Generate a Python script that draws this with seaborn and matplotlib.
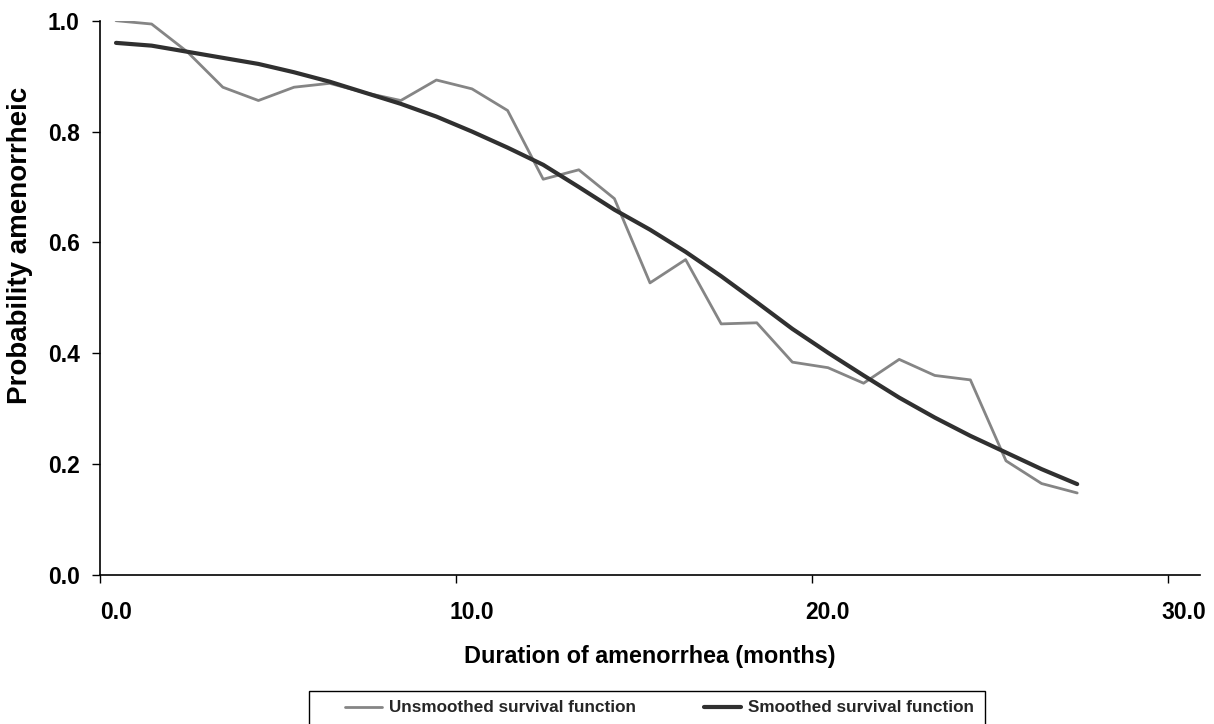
import numpy as np
import pandas as pd
import matplotlib
matplotlib.use("Agg")
import matplotlib.pyplot as plt
import matplotlib.transforms as mtrans
from matplotlib.patches import Rectangle
import seaborn as sns

# months since start of amenorrhea (interval midpoints)
months = [0.45, 1.45, 2.45, 3.45, 4.45, 5.45, 6.45, 7.45, 8.45, 9.45,
          10.45, 11.45, 12.45, 13.45, 14.45, 15.45, 16.45, 17.45, 18.45, 19.45,
          20.45, 21.45, 22.45, 23.45, 24.45, 25.45, 26.45, 27.45]

unsmoothed = [1.000, 0.994, 0.944, 0.880, 0.856, 0.880, 0.887, 0.870, 0.856, 0.893,
              0.877, 0.838, 0.714, 0.731, 0.679, 0.527, 0.569, 0.453, 0.455, 0.384,
              0.374, 0.346, 0.389, 0.360, 0.352, 0.206, 0.165, 0.148]

smoothed = [0.960, 0.955, 0.944, 0.933, 0.922, 0.907, 0.890, 0.870, 0.850, 0.827,
            0.800, 0.771, 0.740, 0.700, 0.659, 0.623, 0.583, 0.539, 0.492, 0.444,
            0.401, 0.360, 0.320, 0.284, 0.251, 0.221, 0.191, 0.164]

x_ticks = [0, 10, 20, 30]
y_ticks = [0.0, 0.2, 0.4, 0.6, 0.8, 1.0]

sns.set_theme(style="white")
plt.rcParams["font.family"] = ["Liberation Sans", "DejaVu Sans"]
plt.rcParams["font.weight"] = "bold"

df = pd.DataFrame({"month": months, "Unsmoothed survival function": unsmoothed,
                   "Smoothed survival function": smoothed})

W, H = 1214, 724
fig = plt.figure(figsize=(W / 100, H / 100), dpi=100)
ax = fig.add_axes([100 / W, 1 - 575 / H, 1100 / W, (575 - 20.7) / H])

sns.lineplot(data=df, x="month", y="Unsmoothed survival function", ax=ax,
             color="#858585", lw=2.0, label="Unsmoothed survival function")
sns.lineplot(data=df, x="month", y="Smoothed survival function", ax=ax,
             color="#303030", lw=3.0, label="Smoothed survival function")
ax.get_legend().remove()

ax.set_xlim(0, 30.9)
ax.set_ylim(0, 1.0)
ax.set_xticks(x_ticks)
ax.set_xticklabels([f"{v:.1f}" for v in x_ticks])
ax.set_yticks(y_ticks)
ax.set_yticklabels([f"{v:.1f}" for v in y_ticks])
ax.tick_params(axis="both", direction="out", length=5.5, width=1, color="black",
               labelsize=16.5, labelcolor="black", bottom=True, left=True)
ax.tick_params(axis="x", pad=13)
ax.tick_params(axis="y", pad=9)
# Excel puts the x labels a bit right of their ticks
shift = mtrans.ScaledTranslation(16 / 100, 0, fig.dpi_scale_trans)
for lbl in ax.get_xticklabels():
    lbl.set_transform(lbl.get_transform() + shift)
for lbl in ax.get_xticklabels() + ax.get_yticklabels():
    lbl.set_fontweight("bold")

sns.despine(ax=ax)
for s in ("left", "bottom"):
    ax.spines[s].set_color("black")
    ax.spines[s].set_linewidth(1.2)

ax.set_xlabel("Duration of amenorrhea (months)", fontsize=16.8, fontweight="bold",
              color="black")
ax.xaxis.set_label_coords((650 - 100) / 1100, (575 - 645) / 554.3)
ax.set_ylabel("Probability amenorrheic", fontsize=20, fontweight="bold",
              color="black")
ax.yaxis.set_label_coords((33 - 100) / 1100, (575 - 245) / 554.3)

# legend: Excel-style box running off the bottom edge
labels = ["Unsmoothed survival function", "Smoothed survival function"]
leg = fig.legend(ax.get_lines(), labels, loc="center left",
                 bbox_to_anchor=(345 / W, 1 - 708 / H), ncol=2, frameon=False,
                 handlelength=2.16, handletextpad=0.4, columnspacing=4.0,
                 borderpad=0, borderaxespad=0,
                 prop={"weight": "bold", "size": 12.3})
fig.add_artist(Rectangle((309 / W, -0.05), (985 - 309) / W, 0.05 + 1 - 691 / H,
                         transform=fig.transFigure, fill=False,
                         edgecolor="black", lw=1.0))

fig.savefig("out.png", dpi=100)
